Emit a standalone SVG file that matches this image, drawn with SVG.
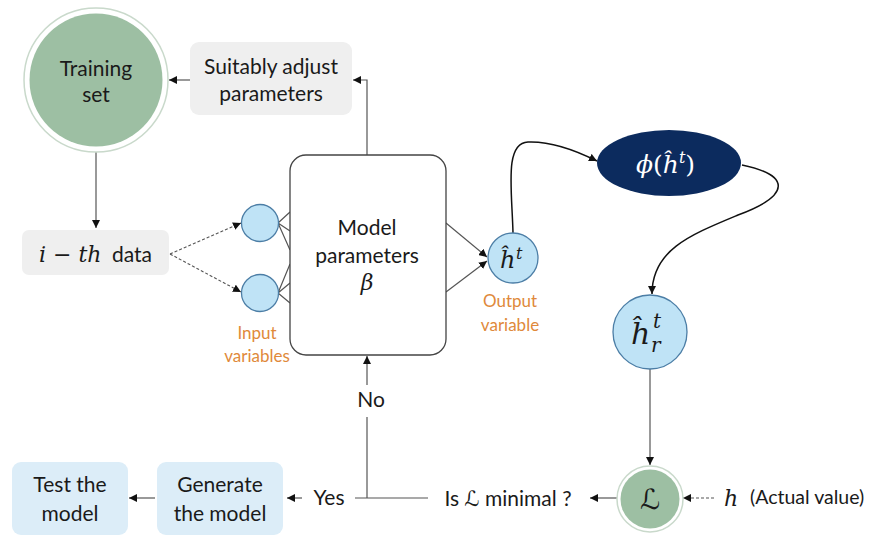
<svg xmlns="http://www.w3.org/2000/svg" width="870" height="536" viewBox="0 0 870 536">
<defs>
<marker id="ah" markerUnits="userSpaceOnUse" markerWidth="9" markerHeight="8" refX="8" refY="4" orient="auto">
<path d="M0,0 L8,4 L0,8 z" fill="#111"/>
</marker>
<style>
.t{font-family:Lato,"Liberation Sans",sans-serif;font-size:21px;fill:#1a1a1a;text-anchor:middle}
.o{font-family:Lato,"Liberation Sans",sans-serif;font-size:17px;fill:#e0893a;text-anchor:middle}
.m{font-family:"DejaVu Serif","Liberation Serif",serif;font-style:italic}
.ln{fill:none;stroke:#555;stroke-width:1.2}
.cv{fill:none;stroke:#111;stroke-width:1.5}
.dsh{fill:none;stroke:#555;stroke-width:1.1;stroke-dasharray:3 2}
.gray{fill:#efefef}
.blue{fill:#dcedf8}
.inp{fill:#bfe3f6;stroke:#4c7ea6;stroke-width:1.3}
.grn{fill:#9dbfa3}
</style>
</defs>

<g id="connectors">
<path class="ln" d="M96,152 V228" marker-end="url(#ah)"/>
<path class="ln" d="M190,80 H169" marker-end="url(#ah)"/>
<path class="ln" d="M367,155 V80 H353" marker-end="url(#ah)"/>
<path class="dsh" d="M170,254 L241,223" marker-end="url(#ah)"/>
<path class="dsh" d="M170,254 L241,292" marker-end="url(#ah)"/>
<path class="ln" d="M278,223 L290,212 M278,223 L290,231 M278,223 L290,250"/>
<path class="ln" d="M278,293 L290,264 M278,293 L290,283 M278,293 L290,303"/>
<path class="ln" d="M446,223 L487,257" marker-end="url(#ah)"/>
<path class="ln" d="M446,292 L487,261" marker-end="url(#ah)"/>
<path class="cv" d="M513,233 C512,190 504,143 528,142 C552,141 575,150 597,161" marker-end="url(#ah)"/>
<path class="cv" d="M742,165 C790,175 792,195 738,215 C690,235 652,250 652,294" marker-end="url(#ah)"/>
<path class="ln" d="M650,369 V465" marker-end="url(#ah)"/>
<path class="ln" d="M617,498 H590" marker-end="url(#ah)"/>
<path class="dsh" d="M714,498 H683" marker-end="url(#ah)"/>
<path class="ln" d="M428,498 H355"/>
<path class="ln" d="M367,498 V417"/>
<path class="ln" d="M367,385 V356" marker-end="url(#ah)"/>
<path class="ln" d="M302,498 H287" marker-end="url(#ah)"/>
<path class="ln" d="M155,498 H129" marker-end="url(#ah)"/>
</g>

<g id="training-set">
<circle cx="96" cy="80" r="72" fill="#fff" stroke="#c9d9cb" stroke-width="1.5"/>
<circle cx="96" cy="80" r="66.5" class="grn"/>
<text class="t" x="96" y="76">Training</text>
<text class="t" x="96" y="102">set</text>
</g>

<g id="adjust-parameters">
<rect x="190" y="42" width="162" height="73" rx="9" class="gray"/>
<text class="t" x="271" y="74">Suitably adjust</text>
<text class="t" x="271" y="101">parameters</text>
</g>

<g id="ith-data">
<rect x="22" y="230" width="147" height="45" rx="7" class="gray"/>
<text x="39" y="262" style="font-family:'DejaVu Serif','Liberation Serif',serif;font-size:22px;fill:#1a1a1a"><tspan font-style="italic">i</tspan><tspan dx="7">−</tspan><tspan dx="7" font-style="italic">th</tspan></text>
<text x="112" y="262" style="font-family:Lato,'Liberation Sans',sans-serif;font-size:21px;fill:#1a1a1a">data</text>
</g>

<g id="input-1"><circle cx="260" cy="223" r="18.5" class="inp"/></g>
<g id="input-2"><circle cx="260" cy="293" r="18.5" class="inp"/></g>
<g id="input-label">
<text class="o" x="257" y="339">Input</text>
<text class="o" x="257" y="362">variables</text>
</g>

<g id="model-parameters">
<rect x="290" y="155" width="156" height="200" rx="16" fill="#fff" stroke="#444" stroke-width="1.3"/>
<text class="t" x="367" y="235">Model</text>
<text class="t" x="367" y="263">parameters</text>
<text class="m" x="367" y="290" text-anchor="middle" font-size="22" fill="#1a1a1a">β</text>
</g>

<g id="output">
<circle cx="513" cy="258" r="25" class="inp"/>
<text class="m" x="500" y="268" font-size="24" fill="#1a1a1a">ĥ</text>
<text class="m" x="516" y="259" font-size="16" fill="#1a1a1a">t</text>
<text class="o" x="510" y="307">Output</text>
<text class="o" x="510" y="331">variable</text>
</g>

<g id="activation">
<ellipse cx="669" cy="163" rx="72" ry="33" fill="#0c2b5e"/>
<text class="m" x="636" y="173" font-size="25" fill="#fff">ϕ<tspan font-style="normal">(</tspan>ĥ<tspan font-size="16" dy="-10">t</tspan><tspan font-style="normal" dy="10">)</tspan></text>
</g>

<g id="rounded-output">
<circle cx="650" cy="332" r="37" class="inp"/>
<text class="m" x="631" y="344" font-size="30" fill="#1a1a1a">ĥ</text>
<text class="m" x="653" y="328" font-size="20" fill="#1a1a1a">t</text>
<text class="m" x="651" y="352" font-size="20" fill="#1a1a1a">r</text>
</g>

<g id="loss">
<circle cx="650" cy="499" r="33" fill="#fff" stroke="#c9d9cb" stroke-width="1.5"/>
<circle cx="650" cy="499" r="29.5" class="grn"/>
<text x="650" y="509" text-anchor="middle" style="font-family:'DejaVu Serif','DejaVu Sans',serif;font-style:italic;font-size:28px;fill:#1a1a1a">ℒ</text>
</g>

<g id="actual-value">
<text x="724" y="506" class="m" font-size="22" fill="#1a1a1a">h</text>
<text x="750" y="504" style="font-family:Lato,'Liberation Sans',sans-serif;font-size:19.5px;fill:#1a1a1a">(Actual value)</text>
</g>

<g id="is-minimal">
<text x="508" y="506" class="t">Is <tspan style="font-family:'DejaVu Serif','DejaVu Sans',serif;font-style:italic">ℒ</tspan> minimal ?</text>
</g>

<g id="no-label"><text class="t" x="371" y="407">No</text></g>
<g id="yes-label"><text class="t" x="329" y="505">Yes</text></g>

<g id="generate-model">
<rect x="157" y="462" width="126" height="73" rx="9" class="blue"/>
<text class="t" x="220" y="492">Generate</text>
<text class="t" x="220" y="521">the model</text>
</g>

<g id="test-model">
<rect x="12" y="462" width="116" height="73" rx="9" class="blue"/>
<text class="t" x="70" y="492">Test the</text>
<text class="t" x="70" y="521">model</text>
</g>
</svg>
